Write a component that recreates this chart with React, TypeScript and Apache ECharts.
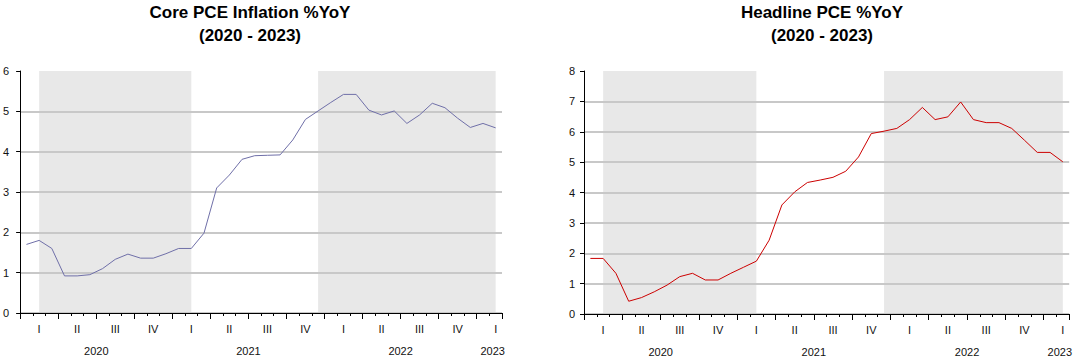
import React, { useEffect, useRef } from "react";
import * as echarts from "echarts";

// Monthly categories, Dec 2019 .. Jan 2023 (38 months)
const months: string[] = [
  "2019-12",
  "2020-01", "2020-02", "2020-03", "2020-04", "2020-05", "2020-06",
  "2020-07", "2020-08", "2020-09", "2020-10", "2020-11", "2020-12",
  "2021-01", "2021-02", "2021-03", "2021-04", "2021-05", "2021-06",
  "2021-07", "2021-08", "2021-09", "2021-10", "2021-11", "2021-12",
  "2022-01", "2022-02", "2022-03", "2022-04", "2022-05", "2022-06",
  "2022-07", "2022-08", "2022-09", "2022-10", "2022-11", "2022-12",
  "2023-01",
];

const corePce: number[] = [
  1.7, 1.8, 1.6, 0.92, 0.92, 0.95, 1.1, 1.33, 1.46, 1.36, 1.36, 1.47,
  1.6, 1.6, 1.98, 3.1, 3.42, 3.81, 3.9, 3.91, 3.92, 4.29, 4.8, 5.01,
  5.22, 5.42, 5.42, 5.03, 4.91, 5.01, 4.7, 4.91, 5.2, 5.09, 4.83, 4.6,
  4.7, 4.59,
];

const headlinePce: number[] = [
  1.83, 1.83, 1.34, 0.42, 0.54, 0.73, 0.95, 1.23, 1.34, 1.12, 1.12, 1.34,
  1.54, 1.74, 2.43, 3.59, 4.02, 4.33, 4.41, 4.5, 4.7, 5.17, 5.94, 6.02,
  6.11, 6.4, 6.8, 6.4, 6.49, 6.98, 6.4, 6.3, 6.3, 6.11, 5.72, 5.32,
  5.32, 5.01,
];

const quarterNames: Record<string, string> = { "01": "I", "04": "II", "07": "III", "10": "IV" };
const shadedSpans: [string, string][] = [
  ["2020-01", "2021-01"],
  ["2021-11", "2023-01"],
];
const yearLabelMonths: Record<string, string> = {
  "2020-05": "2020",
  "2021-05": "2021",
  "2022-05": "2022",
  "2023-01": "2023",
};

const FONT = '"Liberation Sans", Arial, sans-serif';

function buildAxes(gridIndex: number) {
  return [
    {
      type: "category",
      gridIndex,
      position: "bottom",
      data: months,
      boundaryGap: true,
      z: 2,
      axisLine: { show: true, onZero: false, lineStyle: { color: "#000", width: 1 } },
      axisTick: { show: true, interval: 0, length: 3, lineStyle: { color: "#000" } },
      axisLabel: {
        interval: (i: number, v: string) => !!quarterNames[v.slice(5)],
        formatter: (v: string) => quarterNames[v.slice(5)] || "",
        margin: 10,
        fontSize: 11,
        color: "#111",
        fontFamily: FONT,
      },
      splitLine: { show: false },
    },
    {
      type: "category",
      gridIndex,
      position: "bottom",
      data: months,
      boundaryGap: true,
      z: 2,
      axisLine: { show: false, onZero: false },
      axisTick: {
        show: true,
        interval: (i: number) => i % 3 === 0,
        length: 6,
        lineStyle: { color: "#000" },
      },
      axisLabel: { show: false },
      splitLine: { show: false },
    },
    {
      type: "category",
      gridIndex,
      position: "bottom",
      data: months,
      boundaryGap: true,
      offset: 22,
      axisLine: { show: false, onZero: false },
      axisTick: { show: false },
      axisLabel: {
        interval: (i: number, v: string) => !!yearLabelMonths[v],
        formatter: (v: string) =>
          v === "2023-01" ? `{b|${yearLabelMonths[v]}}` : `{a|${yearLabelMonths[v] || ""}}`,
        margin: 10,
        fontSize: 11,
        color: "#111",
        fontFamily: FONT,
        rich: {
          a: { fontSize: 11, fontFamily: FONT, color: "#111", padding: [0, 0, 0, 12.8] },
          b: { fontSize: 11, fontFamily: FONT, color: "#111", padding: [0, 6, 0, 0] },
        },
      },
      splitLine: { show: false },
    },
  ];
}

function buildYAxis(gridIndex: number, max: number, labelMargin: number) {
  const colors: string[] = [];
  for (let i = 0; i <= max; i++) colors.push(i === max ? "rgba(0,0,0,0)" : "#c8c8c8");
  return {
    type: "value",
    gridIndex,
    position: "left",
    min: 0,
    max,
    interval: 1,
    z: 2,
    axisLine: { show: true, lineStyle: { color: "#000", width: 1 } },
    axisTick: { show: true, length: 4, lineStyle: { color: "#000" } },
    axisLabel: { margin: labelMargin, fontSize: 11, color: "#111", fontFamily: FONT },
    splitLine: { show: true, lineStyle: { color: colors, width: 2 } },
  };
}

function shadeSeries(xAxisIndex: number, yAxisIndex: number) {
  return {
    type: "line",
    xAxisIndex,
    yAxisIndex,
    data: [],
    silent: true,
    z: 1,
    markArea: {
      silent: true,
      itemStyle: { color: "#e8e8e8" },
      data: shadedSpans.map(([a, b]) => [{ xAxis: a }, { xAxis: b }]),
    },
  };
}

export default function App() {
  const ref = useRef<HTMLDivElement>(null);

  useEffect(() => {
    if (!ref.current) return;
    const chart = echarts.init(ref.current, undefined, { renderer: "svg" });
    const titleStyle = {
      fontSize: 17,
      fontWeight: "bold",
      color: "#000",
      lineHeight: 23,
      fontFamily: FONT,
    };
    chart.setOption({
      animation: false,
      backgroundColor: "#fff",
      title: [
        {
          text: "Core PCE Inflation %YoY\n(2020 - 2023)",
          left: 250,
          top: 1,
          padding: 0,
          textAlign: "center",
          textStyle: titleStyle,
        },
        {
          text: "Headline PCE %YoY\n(2020 - 2023)",
          left: 822,
          top: 1,
          padding: 0,
          textAlign: "center",
          textStyle: titleStyle,
        },
      ],
      grid: [
        { left: 16, right: 573, top: 71, bottom: 45 },
        { left: 584, right: 3, top: 71, bottom: 44 },
      ],
      xAxis: [...buildAxes(0), ...buildAxes(1)],
      yAxis: [buildYAxis(0, 6, 11), buildYAxis(1, 8, 9)],
      series: [
        shadeSeries(0, 0),
        shadeSeries(3, 1),
        {
          type: "line",
          name: "Core PCE",
          xAxisIndex: 0,
          yAxisIndex: 0,
          data: corePce,
          z: 3,
          symbol: "none",
          lineStyle: { color: "#6f6fa8", width: 1 },
        },
        {
          type: "line",
          name: "Headline PCE",
          xAxisIndex: 3,
          yAxisIndex: 1,
          data: headlinePce,
          z: 3,
          symbol: "none",
          lineStyle: { color: "#cc0000", width: 1 },
        },
      ],
    });
    return () => chart.dispose();
  }, []);

  return (
    <div
      ref={ref}
      style={{ position: "absolute", left: 0, top: 0, width: 1075, height: 358 }}
    />
  );
}
